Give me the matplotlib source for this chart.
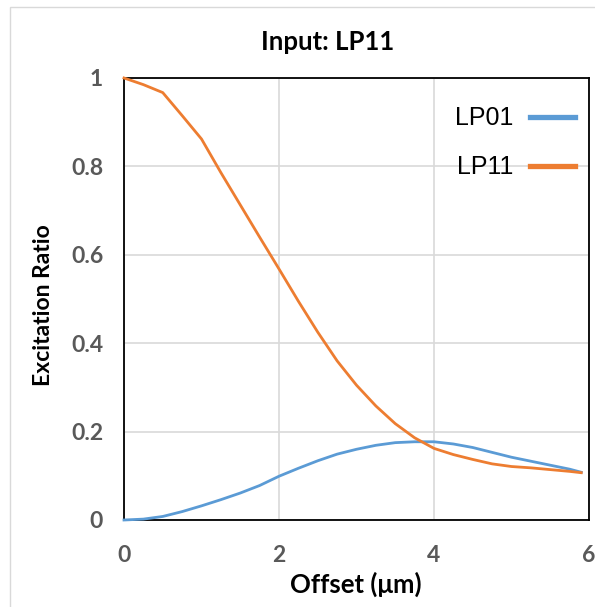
import matplotlib
matplotlib.use("Agg")
import matplotlib.pyplot as plt
from matplotlib.patches import Rectangle

# values
offset = [0.0, 0.25, 0.5, 0.75, 1.0, 1.25, 1.5, 1.75, 2.0, 2.25, 2.5, 2.75, 3.0,
          3.25, 3.5, 3.75, 4.0, 4.25, 4.5, 4.75, 5.0, 5.25, 5.5, 5.75, 5.9]
lp01 = [0.0, 0.002, 0.008, 0.019, 0.032, 0.046, 0.061, 0.078, 0.099, 0.117, 0.134, 0.149, 0.160,
        0.169, 0.175, 0.177, 0.177, 0.172, 0.164, 0.153, 0.142, 0.133, 0.124, 0.115, 0.108]
lp11 = [1.0, 0.985, 0.967, 0.915, 0.862, 0.786, 0.713, 0.640, 0.568, 0.495, 0.425, 0.36, 0.305,
        0.258, 0.218, 0.186, 0.162, 0.148, 0.137, 0.127, 0.121, 0.118, 0.114, 0.110, 0.107]
xticks = [0, 2, 4, 6]
yticks = [0, 0.2, 0.4, 0.6, 0.8, 1]
yticklabels = ["0", "0.2", "0.4", "0.6", "0.8", "1"]

W, H = 595, 607
fig = plt.figure(figsize=(W / 100, H / 100), dpi=100)

# light chart-area border like the office export
fig.patches.append(Rectangle((10 / W, -0.1), 1.2, 1 - 7 / H + 0.1, transform=fig.transFigure,
                             fill=False, edgecolor="#d9d9d9", linewidth=1))

ax = fig.add_axes([124 / W, 1 - 520 / H, (589 - 124) / W, (520 - 78) / H])

ax.plot(offset, lp01, color="#5B9BD5", lw=2.0, label="LP01", clip_on=False, zorder=3)
ax.plot(offset, lp11, color="#ED7D31", lw=2.0, label="LP11", clip_on=False, zorder=3)

ax.set_xlim(0, 6)
ax.set_ylim(0, 1)
ax.set_xticks(xticks)
ax.set_yticks(yticks)
ax.set_yticklabels(yticklabels)
ax.grid(True, color="#d9d9d9", lw=1.2)
ax.set_axisbelow(True)
for s in ax.spines.values():
    s.set_color("black")
    s.set_linewidth(1.3)

ax.tick_params(length=0, colors="#595959")
ax.tick_params(axis="x", pad=18)
ax.tick_params(axis="y", pad=15)
for lab in ax.get_xticklabels() + ax.get_yticklabels():
    lab.set_fontfamily("Lato")
    lab.set_fontweight("bold")
    lab.set_fontsize(16.5)
    lab.set_color("#595959")

fig.text(328 / W, 1 - 42 / H, "Input: LP11", ha="center", va="center",
         fontsize=18.5, fontweight="bold", family="Lato")
fig.text(356 / W, 1 - 584 / H, "Offset (μm)", ha="center", va="center",
         fontsize=18.5, fontweight="bold", family="Lato")
fig.text(44 / W, 1 - 305 / H, "Excitation Ratio", ha="center", va="center",
         rotation=90, fontsize=16.5, fontweight="bold", family="Lato")

leg = ax.legend(loc="upper right", bbox_to_anchor=(0.97, 0.936), frameon=False,
                borderaxespad=0, borderpad=0, markerfirst=False,
                handlelength=1.8, handletextpad=0.65, labelspacing=1.0,
                prop={"family": "Liberation Sans", "size": 18})
for line in leg.get_lines():
    line.set_linewidth(3.8)

fig.savefig("out.png", dpi=100)
